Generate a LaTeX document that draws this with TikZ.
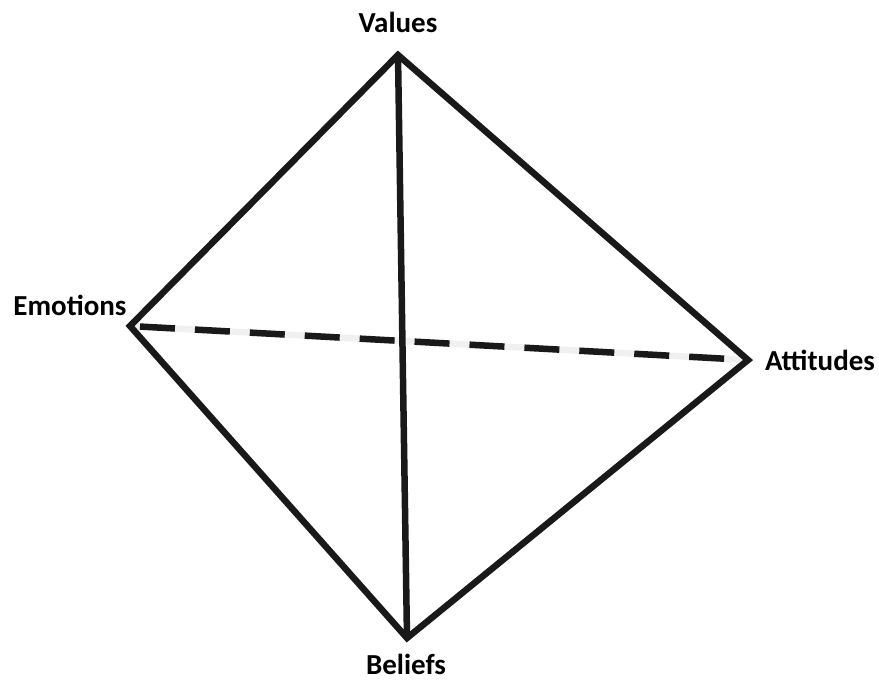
\documentclass[tikz,border=0pt]{standalone}
\usepackage{fontspec}
\setmainfont{Carlito}
\usetikzlibrary{positioning}

\tikzset{
  edge/.style={line width=6.5pt,line join=miter,color=black!90},
  corner/.style={font=\fontsize{29}{32}\selectfont\bfseries,inner sep=0pt}
}

\begin{document}
\begin{tikzpicture}[x=1pt,y=-1pt]
\useasboundingbox (0,0) rectangle (879,681);
% the four corners
\coordinate (v) at (398,55);
\coordinate (e) at (130,326);
\coordinate (a) at (748,360);
\coordinate (b) at (407,638);
\node[corner] (values) at (398,22) {Values};
\node[corner] (emotions) at (70,305) {Emotions};
\node[corner] (attitudes) at (820,360) {Attitudes};
\node[corner] (beliefs) at (406,664) {Beliefs};
% hidden edge behind
\draw[line width=6.5pt,color=black!6] (e) -- (a);
\draw[line width=6.5pt,color=black!90,dash pattern=on 35pt off 20pt,dash phase=-10pt] (e) -- (a);
% outline and front edge
\draw[edge] (v) -- (a) -- (b) -- (e) -- cycle;
\draw[edge] (v) -- (b);
\end{tikzpicture}
\end{document}
